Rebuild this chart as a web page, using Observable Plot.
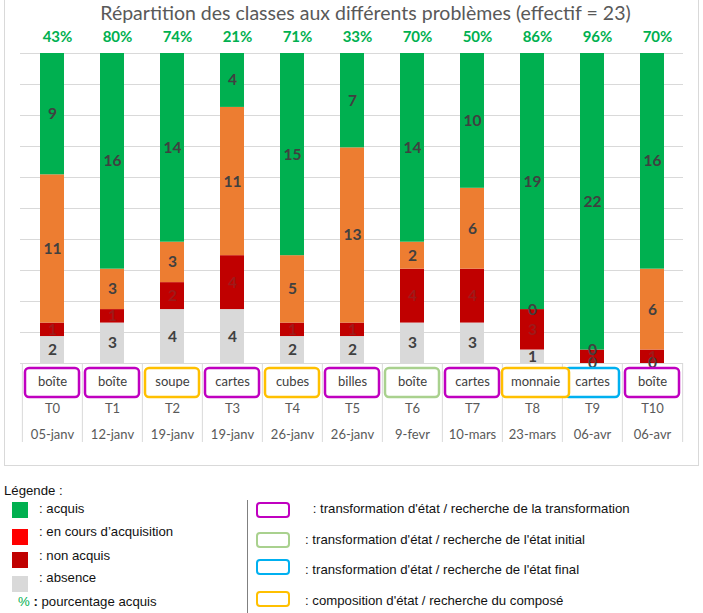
<!DOCTYPE html>
<html>
<head>
<meta charset="utf-8">
<script src="https://cdn.jsdelivr.net/npm/d3@7"></script>
<script src="https://cdn.jsdelivr.net/npm/@observablehq/plot@0.6"></script>
<style>
  body { margin: 0; background: #fff; }
  #wrap { position: relative; width: 703px; height: 613px; overflow: hidden; font-family: Lato, "Open Sans", sans-serif; }
  #frame { position: absolute; left: 4px; top: -1px; width: 693px; height: 465px; border: 1px solid #d9d9d9; }
  #title { position: absolute; left: 0; top: 0; width: 731px; height: 26px; line-height: 26px; text-align: center; font-size: 19.5px; color: #595959; white-space: nowrap; }
  #chart { position: absolute; left: 0; top: 27px; }
  .lg { position: absolute; font-family: "Liberation Sans", Arial, sans-serif; font-size: 13.2px; color: #111; white-space: nowrap; line-height: 16px; }
  .sw { position: absolute; width: 16px; height: 16px; }
  .bx { position: absolute; width: 30px; height: 12px; border: 2.5px solid; border-radius: 4px; background: #fff; }
</style>
</head>
<body>
<div id="wrap">
  <div id="frame"></div>
  <div id="title">Répartition des classes aux différents problèmes (effectif = 23)</div>
  <div id="chart"></div>
  <div id="legend"></div>
</div>
<script>
// ---- data ----
const tests = ["T0","T1","T2","T3","T4","T5","T6","T7","T8","T9","T10"];
const dates = ["05-janv","12-janv","19-janv","19-janv","26-janv","26-janv","9-fevr","10-mars","23-mars","06-avr","06-avr"];
const problems = ["boîte","boîte","soupe","cartes","cubes","billes","boîte","cartes","monnaie","cartes","boîte"];
const problemTypes = ["transformation","transformation","composition","transformation","composition","transformation","initial","transformation","composition","final","transformation"];
const absence    = [2, 3, 4, 4, 2, 2, 3, 3, 1, 0, 0];
const nonAcquis  = [1, 1, 2, 4, 1, 1, 4, 4, 3, 1, 1];
const enCours    = [11, 3, 3, 11, 5, 13, 2, 6, 0, 0, 6];
const acquis     = [9, 16, 14, 4, 15, 7, 14, 10, 19, 22, 16];
const pourcentage = [43, 80, 74, 21, 71, 33, 70, 50, 86, 96, 70];
const seriesNames = ["absence", "non acquis", "en cours", "acquis"];

// ---- styles ----
const seriesColors = {"absence": "#D9D9D9", "non acquis": "#C00000", "en cours": "#ED7D31", "acquis": "#00B050"};
const typeColors = {"transformation": "#C000C0", "initial": "#A9D18E", "final": "#00B0F0", "composition": "#FFC000"};

// ---- tables ----
const seriesValues = [absence, nonAcquis, enCours, acquis];
const rows = [];
tests.forEach((t, i) => seriesNames.forEach((s, k) => rows.push({test: t, serie: s, value: seriesValues[k][i]})));
const cats = tests.map((t, i) => ({test: t, date: dates[i], problem: problems[i], type: problemTypes[i], pct: pourcentage[i]}));

const step = 663 / 11;
const labelFont = {fontFamily: "Lato, sans-serif", fontSize: 15.5, fontWeight: "bold"};
const axisFont = {fontFamily: "Lato, sans-serif", fontSize: 13, lineAnchor: "middle", frameAnchor: "bottom"};

const chart = Plot.plot({
  width: 703,
  height: 440,
  marginTop: 26,
  marginBottom: 104,
  marginLeft: 20,
  marginRight: 20,
  x: {domain: tests, paddingInner: 0.6, paddingOuter: 0.3, axis: null},
  y: {domain: [0, 1], axis: null},
  color: {type: "identity"},
  style: {background: "transparent", overflow: "visible"},
  marks: [
    Plot.gridY(d3.range(0, 11).map(k => k / 10), {stroke: "#d9d9d9", strokeOpacity: 1}),
    Plot.barY(rows, Plot.stackY({x: "test", y: "value", fill: d => seriesColors[d.serie], offset: "normalize"})),
    Plot.text(rows, Plot.stackY({x: "test", y: "value", offset: "normalize", text: d => String(d.value),
      fill: d => d.serie === "non acquis" ? "#9e1a1a" : "#404040", ...labelFont})),
    Plot.text(cats, {x: "test", text: d => d.pct + "%", frameAnchor: "top", lineAnchor: "middle", dy: -16, dx: 5,
      fill: "#00B050", fontFamily: "Lato, sans-serif", fontSize: 15, fontWeight: "bold"}),
    // separators below the bars
    Plot.ruleX(cats, {x: "test", dx: -step / 2, y1: 0, y2: 0, insetBottom: -79, stroke: "#d9d9d9"}),
    Plot.ruleX(cats.slice(-1), {x: "test", dx: step / 2, y1: 0, y2: 0, insetBottom: -79, stroke: "#d9d9d9"}),
    // problem boxes
    Plot.barY(cats.filter(d => d.problem.length <= 6), {x: "test", y1: 0, y2: 0, insetTop: 5, insetBottom: -34,
      insetLeft: -15, insetRight: -15, rx: 4, fill: "white", stroke: d => typeColors[d.type], strokeWidth: 2.5}),
    Plot.barY(cats.filter(d => d.problem.length > 6), {x: "test", y1: 0, y2: 0, insetTop: 5, insetBottom: -34,
      insetLeft: -18, insetRight: -25, rx: 4, fill: "white", stroke: d => typeColors[d.type], strokeWidth: 2.5}),
    Plot.text(cats.filter(d => d.problem.length <= 6), {x: "test", text: "problem", dy: 18, fill: "#404040", ...axisFont}),
    Plot.text(cats.filter(d => d.problem.length > 6), {x: "test", text: "problem", dy: 18, dx: 3, fill: "#404040", ...axisFont}),
    Plot.text(cats, {x: "test", text: "test", dy: 45, fill: "#595959", ...axisFont}),
    Plot.text(cats, {x: "test", text: "date", dy: 71, fill: "#595959", ...axisFont})
  ]
});
document.getElementById("chart").appendChild(chart);

// ---- legend ----
const legend = document.getElementById("legend");
function add(html) { legend.insertAdjacentHTML("beforeend", html); }
add(`<div class="lg" style="left:4px;top:483px">Légende :</div>`);
const swatchItems = [
  ["acquis", "#00B050", 502, ": acquis"],
  ["en cours", "#FF0000", 529, ": en cours d’acquisition"],
  ["non acquis", "#C00000", 552, ": non acquis"],
  ["absence", "#D9D9D9", 576, ": absence"]
];
const labelTops = [501, 524, 548, 570];
swatchItems.forEach(([k, c, top, label], i) => {
  add(`<div class="sw" style="left:12px;top:${top}px;background:${c}"></div>`);
  add(`<div class="lg" style="left:39px;top:${labelTops[i]}px">${label}</div>`);
});
add(`<div class="lg" style="left:18px;top:594px"><span style="color:#00B050">%</span><b> :</b> pourcentage acquis</div>`);
add(`<div style="position:absolute;left:247px;top:500px;width:1px;height:113px;background:#808080"></div>`);
const boxItems = [
  ["transformation", 502, 501, 309, "&nbsp;: transformation d'état / recherche de la transformation"],
  ["initial", 532, 532, 305, ": transformation d'état / recherche de l'état initial"],
  ["final", 559, 562, 305, ": transformation d'état / recherche de l'état final"],
  ["composition", 591, 593, 305, ": composition d'état / recherche du composé"]
];
boxItems.forEach(([t, top, ttop, left, label]) => {
  add(`<div class="bx" style="left:256px;top:${top}px;border-color:${typeColors[t]}"></div>`);
  add(`<div class="lg" style="left:${left}px;top:${ttop}px">${label}</div>`);
});
</script>
</body>
</html>
